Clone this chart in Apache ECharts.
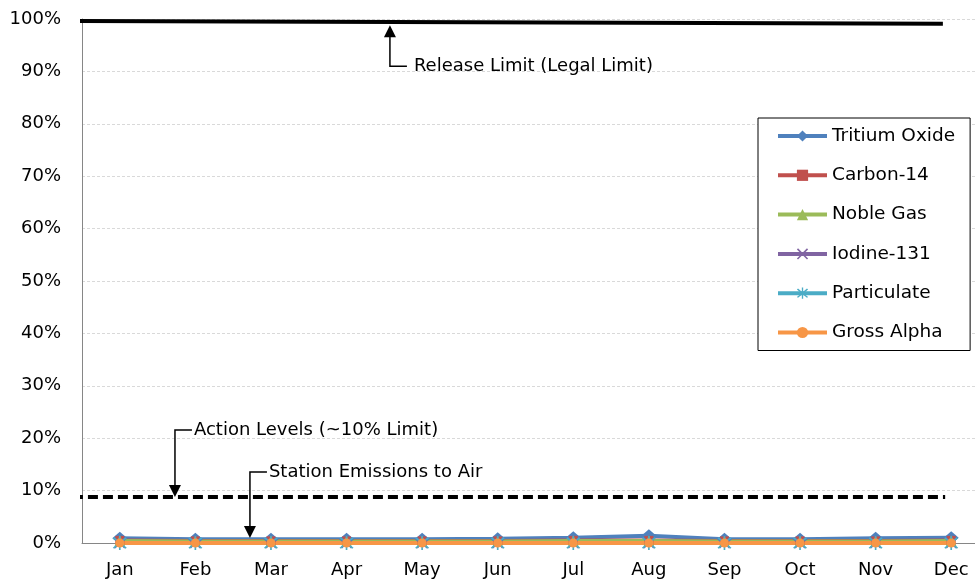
<!DOCTYPE html>
<html><head><meta charset="utf-8">
<script src="https://cdn.jsdelivr.net/npm/echarts@6/dist/echarts.min.js"></script>
<style>html,body{margin:0;padding:0;background:#fff}#c{width:975px;height:581px}</style>
</head><body><div id="c"></div>
<script>
// ---- data ----
const months = ['Jan','Feb','Mar','Apr','May','Jun','Jul','Aug','Sep','Oct','Nov','Dec'];
const tritiumOxide = [0.9, 0.7, 0.7, 0.7, 0.7, 0.8, 1.0, 1.4, 0.7, 0.7, 0.9, 1.0];
const carbon14     = [0.5, 0.4, 0.4, 0.4, 0.4, 0.4, 0.5, 0.5, 0.4, 0.4, 0.4, 0.5];
const nobleGas     = [0.4, 0.3, 0.3, 0.3, 0.3, 0.3, 0.4, 0.4, 0.3, 0.3, 0.3, 0.4];
const iodine131    = [0, 0, 0, 0, 0, 0, 0, 0, 0, 0, 0, 0];
const particulate  = [0, 0, 0, 0, 0, 0, 0, 0, 0, 0, 0, 0];
const grossAlpha   = [0, 0, 0, 0, 0, 0, 0, 0, 0, 0, 0, 0];
const yMin = 0, yMax = 100, yStep = 10;
// reference lines (month-index position, percent)
const releaseLimitLine = [[-0.53, 99.6], [10.89, 99.1]];
const actionLevelLine  = [[-0.62, 8.8], [10.92, 8.8]];
// annotations: arrow tip (month-index, percent), text
const annReleaseTip = [3.574, 98.8];
const annActionTip  = [0.730, 8.8];
const annStationTip = [1.722, 0.95];
const annTexts = ['Release Limit (Legal Limit)', 'Action Levels (~10% Limit)', 'Station Emissions to Air'];

const FONT = 'DejaVu Sans';
const FS = 18;
const X_SYM = 'path://M1,0 L5,4 L9,0 L10,1 L6,5 L10,9 L9,10 L5,6 L1,10 L0,9 L4,5 L0,1 Z';
const AST_SYM = 'path://M1,0 L5,4 L9,0 L10,1 L6,5 L10,9 L9,10 L5,6 L1,10 L0,9 L4,5 L0,1 Z M4.4,-1 L4.4,11 L5.6,11 L5.6,-1 Z';

function mk(name, data, color, symbol, size) {
  return {
    name: name, type: 'line', data: data, xAxisIndex: 0, yAxisIndex: 0,
    symbol: symbol, symbolSize: size, showSymbol: true,
    lineStyle: { color: color, width: 4 },
    itemStyle: { color: color },
    emphasis: { disabled: true }
  };
}

const chart = echarts.init(document.getElementById('c'), null, { renderer: 'canvas' });
chart.setOption({
  animation: false,
  backgroundColor: '#fff',
  textStyle: { fontFamily: FONT },
  grid: { left: 82, top: 19, width: 907, height: 524, containLabel: false, outerBoundsMode: 'none' },
  xAxis: [
    {
      type: 'category', data: months, boundaryGap: true,
      axisLine: { show: true, lineStyle: { color: '#868686', width: 1 } },
      axisTick: { show: false },
      axisLabel: { color: '#000', fontSize: FS, fontFamily: FONT, margin: 18 },
      splitLine: { show: false }
    },
    { type: 'value', min: -0.5, max: 11.5, show: false }
  ],
  yAxis: {
    type: 'value', min: yMin, max: yMax, interval: yStep,
    axisLine: { show: true, onZero: false, lineStyle: { color: '#868686', width: 1 } },
    axisTick: { show: false },
    axisLabel: { color: '#000', fontSize: FS, fontFamily: FONT, margin: 21, formatter: '{value}%' },
    splitLine: { show: true, lineStyle: { color: '#D9D9D9', width: 1, type: [3, 2] } }
  },
  legend: {
    orient: 'vertical', left: 758, top: 118,
    data: ['Tritium Oxide','Carbon-14','Noble Gas','Iodine-131','Particulate','Gross Alpha'],
    backgroundColor: '#fff', borderColor: '#000', borderWidth: 1,
    padding: [8, 15, 8, 18], itemWidth: 49, itemHeight: 14, itemGap: 19.3,
    lineStyle: { width: 4 },
    textStyle: { color: '#000', fontSize: 18.5, fontFamily: FONT, lineHeight: 20 }
  },
  series: [
    {
      name: 'releaseLimit', type: 'line', xAxisIndex: 1, yAxisIndex: 0,
      data: releaseLimitLine, symbol: 'none', clip: false, silent: true,
      lineStyle: { color: '#000', width: 4 }, z: 1
    },
    {
      name: 'actionLevel', type: 'line', xAxisIndex: 1, yAxisIndex: 0,
      data: actionLevelLine, symbol: 'none', clip: false, silent: true,
      lineStyle: { color: '#000', width: 4, type: [10, 5] }, z: 1
    },
    mk('Tritium Oxide', tritiumOxide, '#4F81BD', 'diamond', [15, 13]),
    mk('Carbon-14', carbon14, '#C0504D', 'rect', 9),
    mk('Noble Gas', nobleGas, '#9BBB59', 'triangle', 11),
    mk('Iodine-131', iodine131, '#8064A2', X_SYM, 11),
    mk('Particulate', particulate, '#4BACC6', AST_SYM, 14),
    mk('Gross Alpha', grossAlpha, '#F79646', 'circle', 9)
  ]
});

function px(p) { return chart.convertToPixel({ seriesIndex: 0 }, p); }
function annotation(tip, text, up, shaft, gap) {
  const t = px(tip);
  const dir = up ? 1 : -1; // up: text above tip (shaft goes up)
  const ey = t[1] - dir * shaft;
  const ex = t[0] + 17;
  const head = up
    ? [[t[0], t[1]], [t[0] - 6, t[1] - 12], [t[0] + 6, t[1] - 12]]
    : [[t[0], t[1]], [t[0] - 6, t[1] + 12], [t[0] + 6, t[1] + 12]];
  return [
    { type: 'polyline', shape: { points: [[t[0], t[1] - dir * 6], [t[0], ey], [ex, ey]] },
      style: { stroke: '#000', lineWidth: 1.5, fill: null }, z: 100 },
    { type: 'polygon', shape: { points: head }, style: { fill: '#000' }, z: 100 },
    { type: 'text', x: ex + gap, y: ey,
      style: { text: text, fill: '#000', font: FS + 'px "' + FONT + '"', textVerticalAlign: 'middle', textAlign: 'left' }, z: 100 }
  ];
}
const g = []
  .concat(annotation(annReleaseTip, annTexts[0], false, 41, 7))
  .concat(annotation(annActionTip, annTexts[1], true, 67, 2))
  .concat(annotation(annStationTip, annTexts[2], true, 66, 2));
chart.setOption({ graphic: g });
</script>
</body></html>
